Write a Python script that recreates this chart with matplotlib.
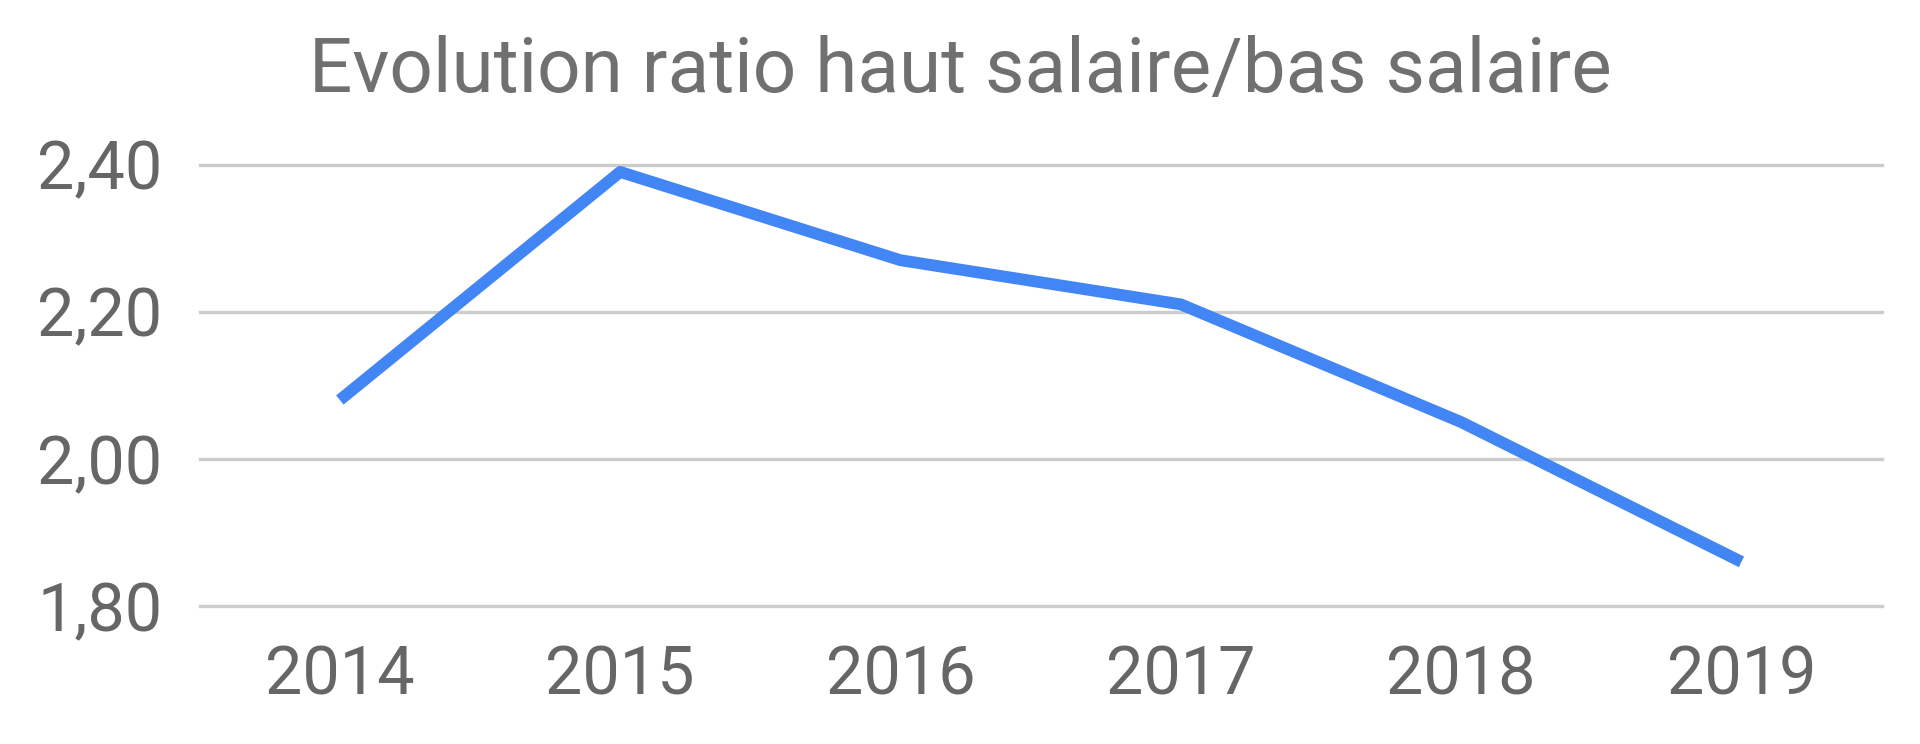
import matplotlib.pyplot as plt
from matplotlib.ticker import FuncFormatter

plt.rcParams['font.family'] = ['Roboto', 'DejaVu Sans']

years = ["2014", "2015", "2016", "2017", "2018", "2019"]
ratio = [2.08, 2.39, 2.27, 2.21, 2.05, 1.86]
y_ticks = [1.80, 2.00, 2.20, 2.40]

fig = plt.figure(figsize=(19.2, 7.44), dpi=100)
ax = fig.add_axes([0.104, 0.1855, 0.876, 0.5933])

ax.plot(range(len(years)), ratio, color="#4285F4", linewidth=8.5,
        solid_capstyle="butt", solid_joinstyle="round", zorder=3)

ax.set_xlim(-0.5, len(years) - 0.5)
ax.set_ylim(1.80, 2.40)
ax.set_xticks(range(len(years)))
ax.set_xticklabels(years)
ax.set_yticks(y_ticks)
ax.yaxis.set_major_formatter(FuncFormatter(lambda v, p: f"{v:.2f}".replace(".", ",")))

ax.grid(axis="y", color="#cccccc", linewidth=2.4, clip_on=False)
ax.set_axisbelow(True)
for s in ax.spines.values():
    s.set_visible(False)
ax.tick_params(axis="both", length=0, labelsize=48, labelcolor="#666666")
ax.tick_params(axis="y", pad=27)
ax.tick_params(axis="x", pad=28)

fig.text(0.5, 0.8757, "Evolution ratio haut salaire/bas salaire", ha="center",
         va="baseline", fontsize=55, color="#707070")

fig.savefig("out.png", dpi=100)
